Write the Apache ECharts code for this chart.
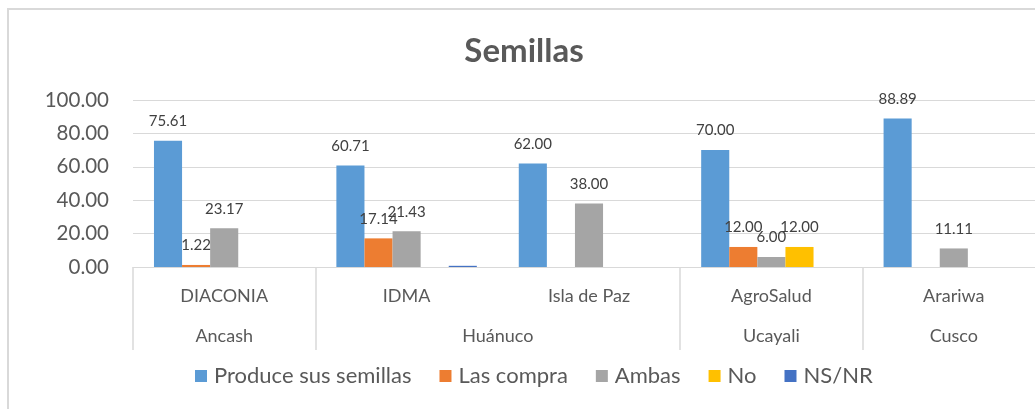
<!DOCTYPE html>
<html><head><meta charset="utf-8">
<script src="https://cdn.jsdelivr.net/npm/echarts@6/dist/echarts.min.js"></script>
<style>
html,body{margin:0;padding:0;background:#fff;overflow:hidden;width:1035px;height:409px;}
#frame{position:absolute;left:7px;top:8px;width:1200px;height:600px;border:2px solid #d9d9d9;box-sizing:border-box;}
#chart{position:absolute;left:0;top:0;width:1048px;height:409px;}
</style></head>
<body>
<div id="frame"></div>
<div id="chart"></div>
<script>
const categories = ['DIACONIA', 'IDMA', 'Isla de Paz', 'AgroSalud', 'Arariwa'];
const groupSlots = ['', 'Ancash', '', '', 'Huánuco', '', '', 'Ucayali', '', 'Cusco', ''];
const groupBoundaries = [0, 2, 6, 8, 10];
const seriesNames = ['Produce sus semillas', 'Las compra', 'Ambas', 'No', 'NS/NR'];
const produce = [75.61, 60.71, 62.00, 70.00, 88.89];
const compra = [1.22, 17.14, 0, 12.00, 0];
const ambas = [23.17, 21.43, 38.00, 6.00, 11.11];
const no = [0, 0, 0, 12.00, 0];
const nsnr = [0, 0.71, 0, 0, 0];
const colors = ['#5B9BD5', '#ED7D31', '#A5A5A5', '#FFC000', '#4472C4'];
const yTicks = [0, 20, 40, 60, 80, 100];

const FONT = 'Lato';
const txt = '#595959';
const values = [produce, compra, ambas, no, nsnr];

const chart = echarts.init(document.getElementById('chart'));
chart.setOption({
  animation: false,
  title: { text: 'Semillas', left: 'center', top: 30,
    textStyle: { fontFamily: FONT, fontSize: 33, fontWeight: 'bold', color: txt } },
  color: colors,
  legend: {
    bottom: 17, left: 190, itemWidth: 12, itemHeight: 12, itemGap: 28,
    icon: 'rect',
    textStyle: { fontFamily: FONT, fontSize: 22, color: txt, padding: [0, 0, 0, 2] },
    data: seriesNames
  },
  grid: { left: 133, right: 0, top: 100, bottom: 142 },
  xAxis: [
    { type: 'category', data: categories, position: 'bottom',
      axisLine: { show: true, lineStyle: { color: '#D9D9D9', width: 1 } },
      axisTick: { show: false },
      axisLabel: { margin: 20, fontFamily: FONT, fontSize: 18, color: txt, interval: 0 } },
    { type: 'category', data: groupSlots, position: 'bottom', boundaryGap: false,
      axisLine: { show: false },
      axisTick: { show: true, length: 83, lineStyle: { color: '#D9D9D9', width: 1.5 },
        interval: function (i) { return groupBoundaries.indexOf(i) >= 0; } },
      axisLabel: { margin: 60, fontFamily: FONT, fontSize: 18, color: txt, interval: 0 } }
  ],
  yAxis: {
    type: 'value', min: 0, max: 100, interval: 20,
    axisLine: { show: false }, axisTick: { show: false },
    splitLine: { lineStyle: { color: '#D9D9D9', width: 1 } },
    axisLabel: { margin: 24, fontFamily: FONT, fontSize: 20.5, color: txt,
      formatter: v => v.toFixed(2) }
  },
  series: seriesNames.map((name, k) => ({
    name, type: 'bar', xAxisIndex: 0, data: values[k],
    barGap: '0%', barCategoryGap: '23%',
    label: { show: k !== 4, position: 'top', distance: 12,
      fontFamily: FONT, fontSize: 15, color: '#404040',
      formatter: p => p.value ? p.value.toFixed(2) : '' }
  }))
});
</script>
</body></html>
